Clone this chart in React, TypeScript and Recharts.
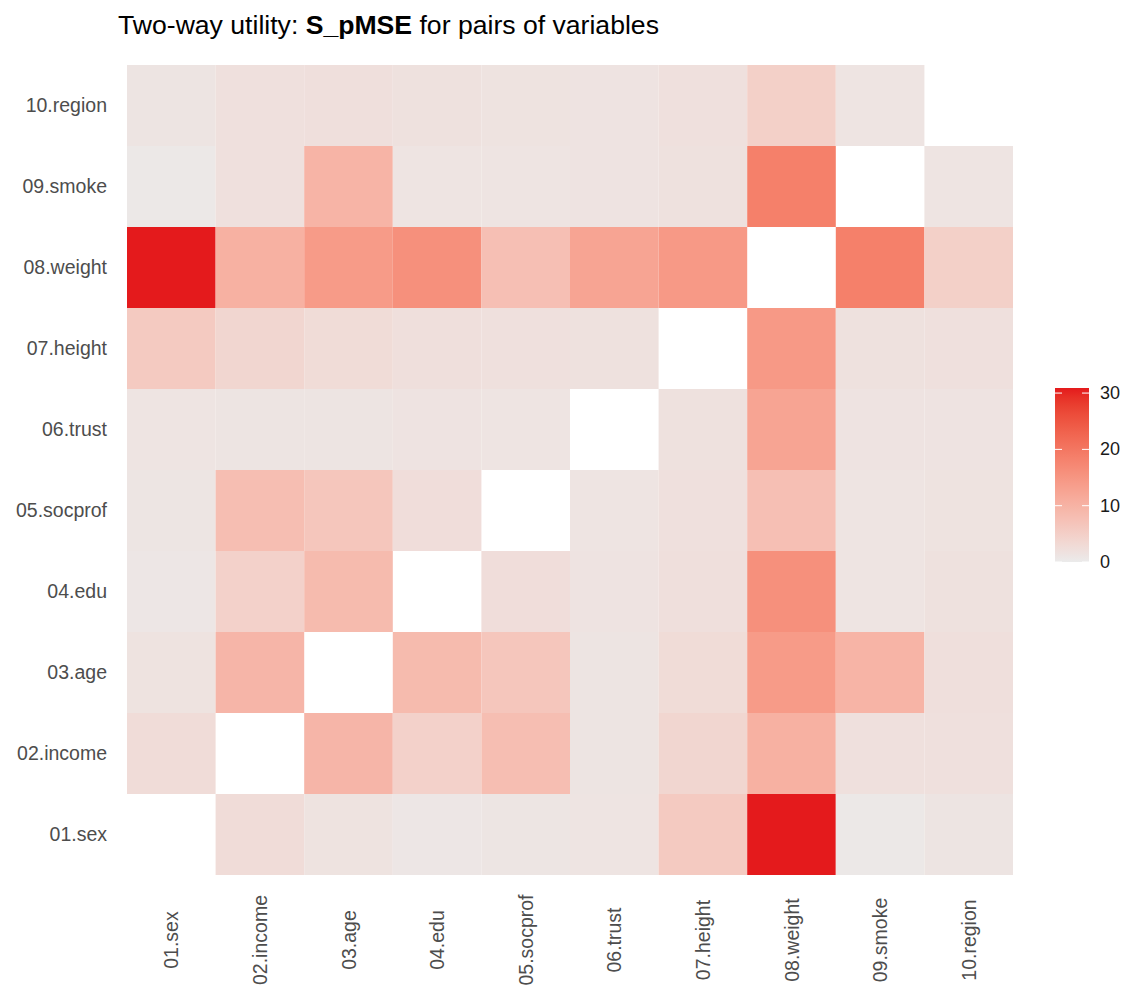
import React from 'react';
import { ScatterChart, Scatter, XAxis, YAxis } from 'recharts';

const variables = [
  '01.sex',
  '02.income',
  '03.age',
  '04.edu',
  '05.socprof',
  '06.trust',
  '07.height',
  '08.weight',
  '09.smoke',
  '10.region'
];

// S_pMSE per pair, one row per variable, columns in the order of `variables`
const sexRow = [null, 2.6, 1.5, 0.8, 1.1, 1.3, 5.9, 30.9, 0.5, 1.2];
const incomeRow = [2.6, null, 9.5, 4.6, 8.0, 1.2, 3.7, 10.3, 2.0, 2.0];
const ageRow = [1.5, 9.5, null, 8.5, 6.5, 1.2, 2.7, 14.1, 9.7, 2.1];
const eduRow = [0.8, 4.6, 8.5, null, 2.4, 1.4, 2.1, 15.9, 1.3, 1.8];
const socprofRow = [1.1, 8.0, 6.5, 2.4, null, 1.3, 2.0, 7.7, 1.3, 1.5];
const trustRow = [1.3, 1.2, 1.2, 1.4, 1.3, null, 1.8, 12.5, 1.4, 1.4];
const heightRow = [5.9, 3.7, 2.7, 2.1, 2.0, 1.8, null, 14.4, 1.8, 2.0];
const weightRow = [30.9, 10.3, 14.1, 15.9, 7.7, 12.5, 14.4, null, 18.6, 4.8];
const smokeRow = [0.5, 2.0, 9.7, 1.3, 1.3, 1.4, 1.8, 18.6, null, 1.3];
const regionRow = [1.2, 2.0, 2.1, 1.8, 1.5, 1.4, 2.0, 4.8, 1.3, null];

const rows = [sexRow, incomeRow, ageRow, eduRow, socprofRow, trustRow, heightRow, weightRow, smokeRow, regionRow];

const legendBreaks = [0, 10, 20, 30];

const LOW = '#EBEBEB';
const HIGH = '#E41A1C';

// chart geometry
const W = 1124;
const H = 987;
const margin = { top: 65, right: 111, bottom: 2, left: 17 };
const yAxisWidth = 110;
const xAxisHeight = 110;
const plotW = W - margin.left - yAxisWidth - margin.right;
const plotH = H - margin.top - margin.bottom - xAxisHeight;
const cellW = plotW / variables.length;
const cellH = plotH / variables.length;

const FONT = '"Liberation Sans", Arial, Helvetica, sans-serif';
const AXIS_FONT_SIZE = 19.5;

// --- colour ramp in CIELAB, like ggplot's scale_fill_gradient ---
const toLin = (c: number) => (c <= 0.04045 ? c / 12.92 : Math.pow((c + 0.055) / 1.055, 2.4));
const fromLin = (c: number) => (c <= 0.0031308 ? 12.92 * c : 1.055 * Math.pow(c, 1 / 2.4) - 0.055);
const Xn = 0.95047, Yn = 1, Zn = 1.08883;
const f = (t: number) => (t > 216 / 24389 ? Math.cbrt(t) : ((24389 / 27) * t + 16) / 116);
const finv = (t: number) => (t * t * t > 216 / 24389 ? t * t * t : (116 * t - 16) / (24389 / 27));

const hexToLab = (hex: string) => {
  const r = toLin(parseInt(hex.slice(1, 3), 16) / 255);
  const g = toLin(parseInt(hex.slice(3, 5), 16) / 255);
  const b = toLin(parseInt(hex.slice(5, 7), 16) / 255);
  const X = 0.4124564 * r + 0.3575761 * g + 0.1804375 * b;
  const Y = 0.2126729 * r + 0.7151522 * g + 0.072175 * b;
  const Z = 0.0193339 * r + 0.119192 * g + 0.9503041 * b;
  const fx = f(X / Xn), fy = f(Y / Yn), fz = f(Z / Zn);
  return [116 * fy - 16, 500 * (fx - fy), 200 * (fy - fz)];
};

const labToHex = ([L, a, bb]: number[]) => {
  const fy = (L + 16) / 116;
  const fx = fy + a / 500;
  const fz = fy - bb / 200;
  const X = finv(fx) * Xn, Y = finv(fy) * Yn, Z = finv(fz) * Zn;
  const r = 3.2404542 * X - 1.5371385 * Y - 0.4985314 * Z;
  const g = -0.969266 * X + 1.8760108 * Y + 0.041556 * Z;
  const b = 0.0556434 * X - 0.2040259 * Y + 1.0572252 * Z;
  const hx = (c: number) => {
    const v = Math.round(Math.min(1, Math.max(0, fromLin(c))) * 255);
    return v.toString(16).padStart(2, '0');
  };
  return '#' + hx(r) + hx(g) + hx(b);
};

const lowLab = hexToLab(LOW);
const highLab = hexToLab(HIGH);

const allValues = rows.flat().filter((v) => v != null) as number[];
const vMin = 0;
const vMax = Math.max(...allValues);

const colorFor = (v: number) => {
  const t = Math.min(1, Math.max(0, (v - vMin) / (vMax - vMin)));
  return labToHex(lowLab.map((l, i) => l + (highLab[i] - l) * t));
};

const cells = rows.flatMap((row, ri) =>
  row
    .map((value, ci) => ({ x: ci + 1, y: ri + 1, value }))
    .filter((c) => c.value != null)
);

const Tile = (props: any) => {
  const { cx, cy, payload } = props;
  if (cx == null || cy == null) return null;
  return (
    <rect
      x={cx - cellW / 2}
      y={cy - cellH / 2}
      width={cellW}
      height={cellH}
      fill={colorFor(payload.value)}
    />
  );
};

const XTick = (props: any) => {
  const { x, y, payload } = props;
  const cy = y + 65;
  return (
    <text
      x={x}
      y={cy}
      transform={`rotate(-90, ${x}, ${cy})`}
      textAnchor="middle"
      dominantBaseline="central"
      fill="#4d4d4d"
      fontSize={AXIS_FONT_SIZE}
      fontFamily={FONT}
    >
      {variables[payload.value - 1]}
    </text>
  );
};

const ticks = variables.map((_, i) => i + 1);

// legend colour bar
const barX = 1055;
const barW = 34;
const barTop = 388;
const barBottom = 562;
const legendY = (v: number) => barBottom - ((v - vMin) / (vMax - vMin)) * (barBottom - barTop);
const gradStops = Array.from({ length: 21 }, (_, i) => i / 20);

const App = () => {
  return (
    <div style={{ position: 'absolute', left: 0, top: 0, width: W, height: H, background: '#fff', fontFamily: FONT }}>
      <ScatterChart width={W} height={H} margin={margin}>
        <XAxis
          type="number"
          dataKey="x"
          domain={[0.5, 10.5]}
          ticks={ticks}
          interval={0}
          axisLine={false}
          tickLine={false}
          tickSize={0}
          tickMargin={0}
          height={xAxisHeight}
          tick={<XTick />}
        />
        <YAxis
          type="number"
          dataKey="y"
          domain={[0.5, 10.5]}
          ticks={ticks}
          interval={0}
          axisLine={false}
          tickLine={false}
          tickSize={0}
          tickMargin={20}
          width={yAxisWidth}
          tickFormatter={(v: number) => variables[v - 1]}
          tick={{ fill: '#4d4d4d', fontSize: AXIS_FONT_SIZE, fontFamily: FONT }}
        />
        <Scatter data={cells} shape={<Tile />} isAnimationActive={false} />
      </ScatterChart>
      <svg width={W} height={H} style={{ position: 'absolute', left: 0, top: 0, pointerEvents: 'none' }}>
        <text x={118} y={34} fontSize={26.6} fontFamily={FONT} fill="#000">
          Two-way utility: <tspan fontWeight="bold">S_pMSE</tspan> for pairs of variables
        </text>
        <defs>
          <linearGradient id="fillbar" x1="0" y1="1" x2="0" y2="0">
            {gradStops.map((s) => (
              <stop key={s} offset={s} stopColor={colorFor(vMin + s * (vMax - vMin))} />
            ))}
          </linearGradient>
        </defs>
        <rect x={barX} y={barTop} width={barW} height={barBottom - barTop} fill="url(#fillbar)" />
        {legendBreaks.map((b) => (
          <g key={b}>
            <line x1={barX} x2={barX + 7} y1={legendY(b)} y2={legendY(b)} stroke="#fff" strokeWidth={1} />
            <line x1={barX + barW - 7} x2={barX + barW} y1={legendY(b)} y2={legendY(b)} stroke="#fff" strokeWidth={1} />
            <text
              x={barX + barW + 11}
              y={legendY(b)}
              dominantBaseline="central"
              fontSize={18}
              fontFamily={FONT}
              fill="#1a1a1a"
            >
              {b}
            </text>
          </g>
        ))}
      </svg>
    </div>
  );
};

export default App;
